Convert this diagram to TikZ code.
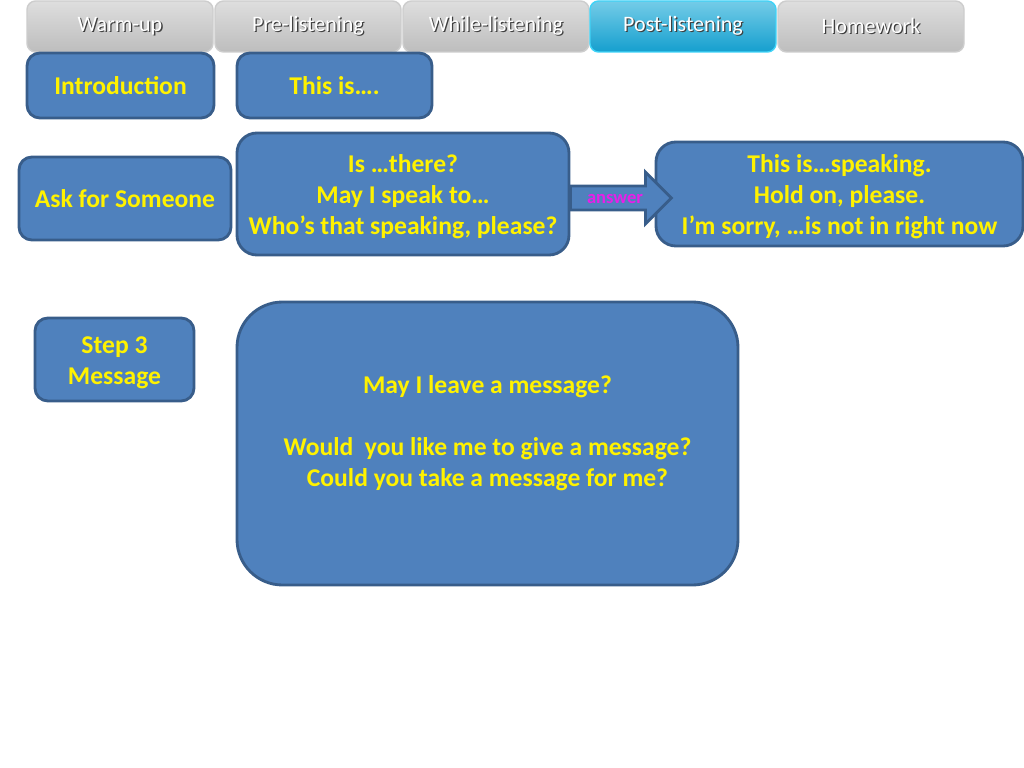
\documentclass[tikz,border=0pt]{standalone}
\usepackage{fontspec}
\setmainfont{Carlito}
\usetikzlibrary{positioning,shapes.arrows}

\definecolor{boxblue}{HTML}{4F81BD}
\definecolor{boxline}{HTML}{385D8A}
\definecolor{tabtop}{HTML}{DEDEDE}
\definecolor{tabbot}{HTML}{BDBDBD}
\definecolor{tabline}{HTML}{CDCDCD}
\definecolor{acttop}{HTML}{74CCE8}
\definecolor{actbot}{HTML}{159FCE}
\definecolor{actline}{HTML}{3FD3F7}
\definecolor{answercol}{HTML}{E81EE8}

% one pixel of the reference
\def\pxu{0.703125pt}
% white text with a dark shadow, as on the tabs
\newcommand\tabtext[1]{\rlap{\kern0.9pt\raisebox{-0.9pt}{\color{black!75}#1}}#1}
% a little more room above the first line
\newcommand\toppad{\rule{0pt}{17pt}}

\begin{document}
\begin{tikzpicture}[x=0.703125pt, y=-0.703125pt,
    tab/.style={draw=tabline, line width=1pt, rounded corners=6pt, top color=tabtop, bottom color=tabbot,
        minimum width=186*\pxu, minimum height=51*\pxu, text=white, font=\fontsize{15.5pt}{17pt}\selectfont},
    acttab/.style={tab, draw=actline, top color=acttop, bottom color=actbot},
    bluebox/.style={draw=boxline, line width=2pt, fill=boxblue, rounded corners=9pt, align=center,
        text=yellow, inner sep=0pt, font=\fontsize{18pt}{21.8pt}\selectfont\bfseries},
    blockarrow/.style={single arrow, draw=boxline, line width=2pt, fill=boxblue,
        single arrow head extend=9.8pt, minimum height=101*\pxu, inner xsep=1pt, inner ysep=3.6pt,
        text height=7.6pt, text depth=0pt, text=answercol, font=\fontsize{13pt}{14pt}\selectfont\bfseries}]
    \useasboundingbox (0,0) rectangle (1024,768);

    % Schede in alto
    \foreach \x/\name/\txt in {120/warm/Warm-up, 308/pre/Pre-listening, 496/while/While-listening, 871/home/Homework}
        \node[tab] (\name) at (\x,26.5) {\tabtext{\txt}};
    \node[acttab] (post) at (683,26.5) {\tabtext{Post-listening}};

    % Riquadri
    \node[bluebox, minimum width=187*\pxu, minimum height=65*\pxu] (intro) at (120.5,85.5) {Introduction};
    \node[bluebox, minimum width=195*\pxu, minimum height=65*\pxu] (thisis) at (334.5,85.5) {This is\dots.};
    \node[bluebox, minimum width=212*\pxu, minimum height=83*\pxu] (ask) at (125,198.5) {Ask for Someone};
    \node[bluebox, minimum width=332*\pxu, minimum height=122*\pxu, rounded corners=14pt] (ask list) at (403,194)
        {\toppad Is \dots there?\\May I speak to\dots\\Who’s that speaking, please?};
    \node[bluebox, minimum width=367*\pxu, minimum height=104*\pxu, rounded corners=14pt] (reply) at (839.5,194)
        {\toppad This is\dots speaking.\\Hold on, please.\\I’m sorry, \dots is not in right now};
    \node[bluebox, minimum width=159*\pxu, minimum height=83*\pxu] (step) at (114.5,359.5) {\toppad Step 3\\Message};
    \node[bluebox, minimum width=501*\pxu, minimum height=283*\pxu, rounded corners=32pt] (msg) at (487.5,443.5)
        {\toppad May I leave a message?\\\mbox{}\\Would\ \ you like me to give a message?\\Could you take a message for me?\\\mbox{}};

    % Freccia
    \node[blockarrow, right=-1pt of ask list, yshift=-4*\pxu] (answer) {answer};
\end{tikzpicture}
\end{document}
